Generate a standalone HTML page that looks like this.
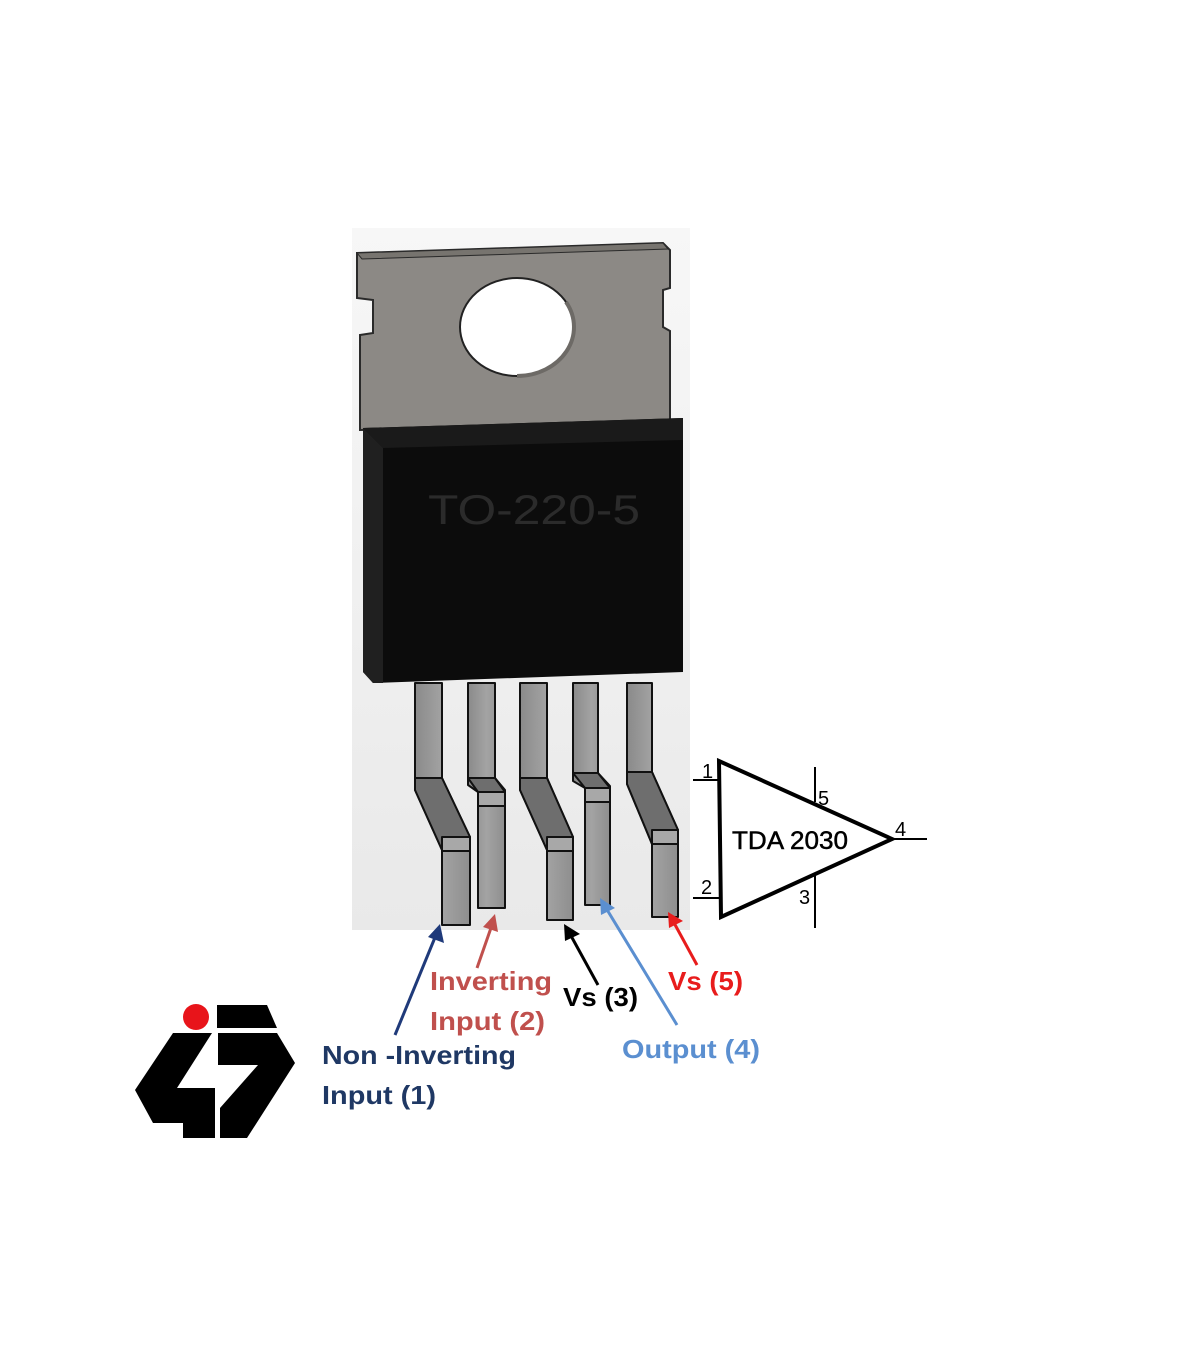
<!DOCTYPE html>
<html><head><meta charset="utf-8"><style>html,body{margin:0;padding:0;background:#fff}svg{display:block}</style></head>
<body>
<svg width="1200" height="1372" viewBox="0 0 1200 1372" xmlns="http://www.w3.org/2000/svg" font-family="Liberation Sans, sans-serif">
<defs>
<linearGradient id="bg" x1="0" y1="0" x2="0" y2="1"><stop offset="0" stop-color="#f7f7f7"/><stop offset="1" stop-color="#e9e9e9"/></linearGradient>
<linearGradient id="pin" x1="0" y1="0" x2="1" y2="0"><stop offset="0" stop-color="#8a8a8a"/><stop offset="0.5" stop-color="#a3a3a3"/><stop offset="1" stop-color="#8e8e8e"/></linearGradient>
</defs>
<rect x="352" y="228" width="338" height="702" fill="url(#bg)"/>
<!-- tab -->
<path d="M357,253 L663,243 L670,250 L670,288 L663,290 L663,327 L670,331 L670,423 L360,430 L360,335 L373,333 L373,300 L357,298 Z" fill="#8c8985" stroke="#2a2a2a" stroke-width="2"/>
<path d="M357,253 L663,243 L668,249 L362,259 Z" fill="#77746f" stroke="#2a2a2a" stroke-width="1"/>
<ellipse cx="517" cy="327" rx="57" ry="49" fill="#fff" stroke="#222" stroke-width="2"/>
<path d="M566,302 A57,49 0 0 1 517,376" fill="none" stroke="#6d6a66" stroke-width="4"/>
<!-- body -->
<path d="M363,428 L683,418 L683,672 L373,683 L363,672 Z" fill="#0c0c0c"/>
<path d="M363,428 L683,418 L683,440 L383,448 Z" fill="#1a1a1a"/>
<path d="M363,428 L383,448 L383,683 L373,683 L363,672 Z" fill="#202020"/>
<text x="428" y="524" font-size="42" fill="#2b2b2b" textLength="212" lengthAdjust="spacingAndGlyphs">TO-220-5</text>
<!-- pins -->
<g stroke="#111" stroke-width="2" stroke-linejoin="round">
<path d="M415,683 L442,683 L442,778 L470,837 L470,925 L442,925 L442,850 L415,790 Z" fill="url(#pin)"/>
<path d="M415,778 L442,778 L470,837 L442,850 L415,790 Z" fill="#6e6e6e"/>
<rect x="442" y="837" width="28" height="14" fill="#a8a8a8"/>
<path d="M468,683 L495,683 L495,778 L505,790 L505,908 L478,908 L478,792 L468,785 Z" fill="url(#pin)"/>
<path d="M468,778 L495,778 L505,792 L478,792 Z" fill="#6e6e6e"/>
<rect x="478" y="792" width="27" height="14" fill="#a8a8a8"/>
<path d="M520,683 L547,683 L547,778 L573,837 L573,920 L547,920 L547,850 L520,790 Z" fill="url(#pin)"/>
<path d="M520,778 L547,778 L573,837 L547,850 L520,790 Z" fill="#6e6e6e"/>
<rect x="547" y="837" width="26" height="14" fill="#a8a8a8"/>
<path d="M573,683 L598,683 L598,773 L610,786 L610,905 L585,905 L585,788 L573,781 Z" fill="url(#pin)"/>
<path d="M573,773 L598,773 L610,788 L585,788 Z" fill="#6e6e6e"/>
<rect x="585" y="788" width="25" height="14" fill="#a8a8a8"/>
<path d="M627,683 L652,683 L652,772 L678,830 L678,917 L652,917 L652,844 L627,784 Z" fill="url(#pin)"/>
<path d="M627,772 L652,772 L678,830 L652,844 L627,784 Z" fill="#6e6e6e"/>
<rect x="652" y="830" width="26" height="14" fill="#a8a8a8"/>
</g>
<!-- arrows -->
<g stroke-width="3" fill="none">
<line x1="395" y1="1035" x2="436" y2="935" stroke="#1f3a7a"/>
<line x1="477" y1="968" x2="492" y2="925" stroke="#c0504d"/>
<line x1="598" y1="985" x2="570" y2="934" stroke="#000"/>
<line x1="677" y1="1025" x2="606" y2="908" stroke="#5b8fd0"/>
<line x1="697" y1="965" x2="673" y2="921" stroke="#e81c1c"/>
</g>
<polygon points="440,924 444,943 428,937" fill="#1f3a7a"/>
<polygon points="495,914 498,932 483,927" fill="#c0504d"/>
<polygon points="564,924 580,934 565,941" fill="#000"/>
<polygon points="600,898 615,908 601,915" fill="#5b8fd0"/>
<polygon points="668,912 683,921 669,928" fill="#e81c1c"/>
<!-- labels -->
<g font-weight="bold" font-size="26">
<text x="430" y="990" fill="#c0504d" textLength="122" lengthAdjust="spacingAndGlyphs">Inverting</text>
<text x="430" y="1030" fill="#c0504d" textLength="115" lengthAdjust="spacingAndGlyphs">Input (2)</text>
<text x="563" y="1006" fill="#000" textLength="75" lengthAdjust="spacingAndGlyphs">Vs (3)</text>
<text x="668" y="990" fill="#e81c1c" textLength="75" lengthAdjust="spacingAndGlyphs">Vs (5)</text>
<text x="622" y="1058" fill="#5b8fd0" textLength="138" lengthAdjust="spacingAndGlyphs">Output (4)</text>
<text x="322" y="1064" fill="#1f3864" textLength="194" lengthAdjust="spacingAndGlyphs">Non -Inverting</text>
<text x="322" y="1104" fill="#1f3864" textLength="114" lengthAdjust="spacingAndGlyphs">Input (1)</text>
</g>
<!-- amp symbol -->
<g stroke="#000" fill="none">
<polygon points="719,761 721,917 892,839" stroke-width="4" stroke-linejoin="miter"/>
<line x1="693" y1="780" x2="719" y2="780" stroke-width="2"/>
<line x1="693" y1="898" x2="720" y2="898" stroke-width="2"/>
<line x1="892" y1="839" x2="927" y2="839" stroke-width="2"/>
<line x1="815" y1="767" x2="815" y2="802" stroke-width="2"/>
<line x1="815" y1="875" x2="815" y2="928" stroke-width="2"/>
</g>
<g font-size="20" fill="#000">
<text x="702" y="778">1</text>
<text x="701" y="894">2</text>
<text x="799" y="904">3</text>
<text x="895" y="836">4</text>
<text x="818" y="805">5</text>
</g>
<text x="732" y="849" font-size="25" fill="#000" stroke="#000" stroke-width="0.5" textLength="116" lengthAdjust="spacingAndGlyphs">TDA 2030</text>
<!-- logo -->
<circle cx="196" cy="1017" r="13" fill="#e8141a"/>
<polygon points="217,1005 267,1005 277,1028 217,1028" fill="#000"/>
<polygon points="173,1033 212,1033 177,1088 215,1088 215,1138 183,1138 183,1123 153,1123 135,1090" fill="#000"/>
<polygon points="218,1033 277,1033 295,1063 247,1138 220,1138 220,1108 258,1065 218,1065" fill="#000"/>
</svg>
</body></html>
